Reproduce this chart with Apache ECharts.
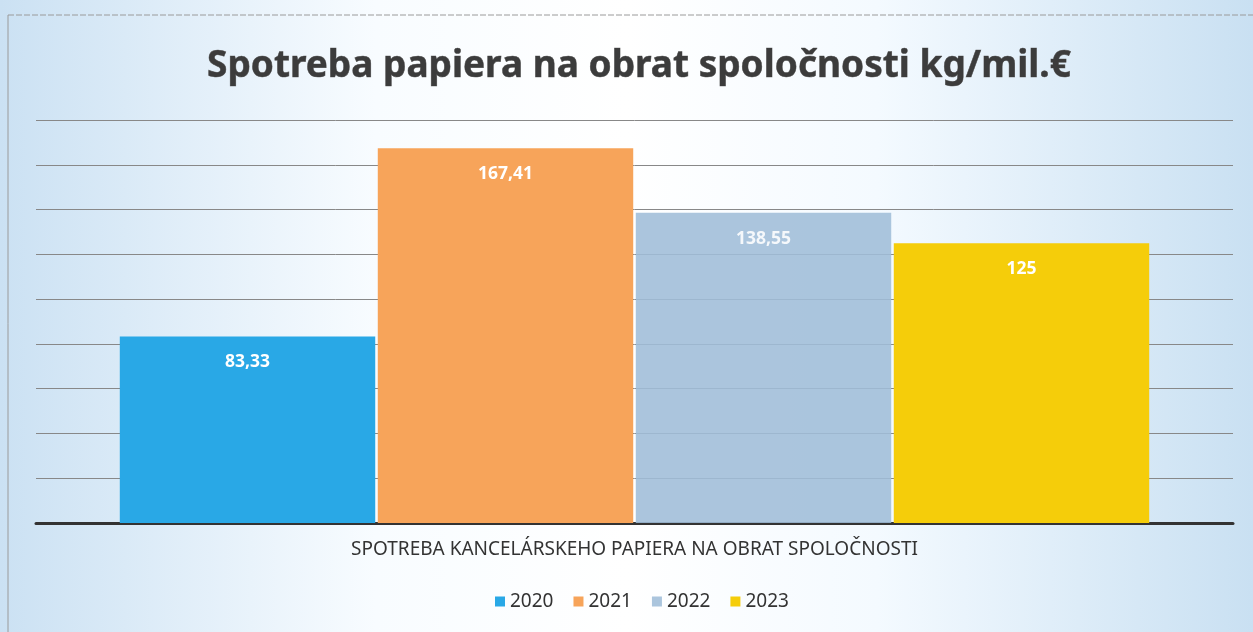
<!DOCTYPE html>
<html>
<head>
<meta charset="utf-8">
<script src="https://cdn.jsdelivr.net/npm/echarts@6/dist/echarts.min.js"></script>
<style>
  html, body { margin: 0; padding: 0; }
  #chart { width: 1253px; height: 632px; }
</style>
</head>
<body>
<div id="chart"></div>
<script>
var titleText = 'Spotreba papiera na obrat spoločnosti kg/mil.€';
var category = ['SPOTREBA KANCELÁRSKEHO PAPIERA NA OBRAT SPOLOČNOSTI'];
var years = ['2020', '2021', '2022', '2023'];
var values = [83.33, 167.41, 138.55, 125];
var palette = ['#29a8e6', '#f7a45a', '#9fbdd8', '#f5cd0a'];

var chart = echarts.init(document.getElementById('chart'));

var series = years.map(function (y, i) {
    return {
        name: y,
        type: 'bar',
        data: [values[i]],
        barGap: '1%',
        barCategoryGap: '14%',
        itemStyle: {
            color: palette[i],
            opacity: i === 2 ? 0.88 : 1
        },
        label: {
            show: true,
            position: 'insideTop',
            distance: 17,
            color: '#ffffff',
            fontFamily: 'Noto Sans',
            fontWeight: 'bold',
            fontSize: 17.5,
            formatter: function (p) {
                return String(p.value).replace('.', ',');
            }
        }
    };
});

var option = {
    backgroundColor: {
        type: 'linear', x: 0, y: 0, x2: 1, y2: 0,
        colorStops: [
            { offset: 0, color: '#cbe1f3' },
            { offset: 0.3, color: '#f8fcff' },
            { offset: 0.5, color: '#ffffff' },
            { offset: 0.7, color: '#f4faff' },
            { offset: 1, color: '#c9e0f2' }
        ]
    },
    graphic: [
        {
            type: 'line',
            shape: { x1: 8, y1: 15, x2: 1253, y2: 15 },
            style: { stroke: '#9a9a9a', lineWidth: 1, lineDash: [6, 2] }
        },
        {
            type: 'line',
            shape: { x1: 8, y1: 15, x2: 8, y2: 632 },
            style: { stroke: '#9a9a9a', lineWidth: 1 }
        }
    ],
    title: {
        text: titleText,
        left: 202,
        top: 43,
        textStyle: {
            fontFamily: 'Noto Sans',
            fontWeight: 'bold',
            fontSize: 37,
            color: '#3c3c3c',
            textBorderColor: '#6a6a6a',
            textBorderWidth: 0.6
        }
    },
    legend: {
        bottom: 16,
        left: 490,
        itemWidth: 10,
        itemHeight: 10,
        itemGap: 20,
        icon: 'rect',
        textStyle: {
            fontFamily: 'Noto Sans',
            fontSize: 19,
            color: '#333'
        },
        data: years
    },
    grid: {
        left: 36,
        right: 20,
        top: 120,
        bottom: 109
    },
    xAxis: {
        type: 'category',
        data: category,
        axisTick: { show: false },
        axisLine: { lineStyle: { color: '#333', width: 3 } },
        axisLabel: {
            margin: 17,
            fontFamily: 'Noto Sans',
            fontSize: 19,
            color: '#333'
        }
    },
    yAxis: {
        type: 'value',
        min: 0,
        max: 180,
        interval: 20,
        axisLabel: { show: false },
        axisLine: { show: false },
        axisTick: { show: false },
        splitLine: { lineStyle: { color: '#888888', width: 1 } }
    },
    series: series
};

chart.setOption(option);
</script>
</body>
</html>
